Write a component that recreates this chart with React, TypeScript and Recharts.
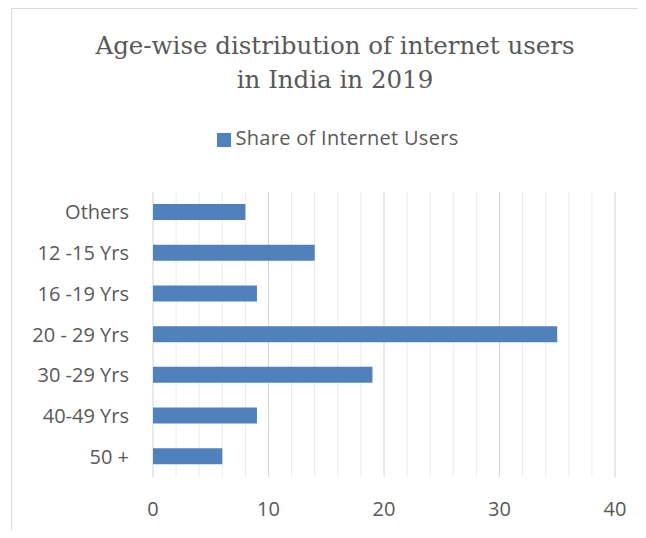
import { Bar, BarChart, CartesianGrid, Legend, XAxis, YAxis } from "recharts";

const categories = ["Others", "12 -15 Yrs", "16 -19 Yrs", "20 - 29 Yrs", "30 -29 Yrs", "40-49 Yrs", "50 +"];
const shareOfUsers = [8, 14, 9, 35, 19, 9, 6];
const majorTicks = [0, 10, 20, 30, 40];
const minorTicks = [2, 4, 6, 8, 12, 14, 16, 18, 22, 24, 26, 28, 32, 34, 36, 38];

const data = categories.map((c, i) => ({ age: c, share: shareOfUsers[i] }));

const textColor = "#595959";
const sans = "'Open Sans', 'Noto Sans', sans-serif";

// minor gridlines every 2 units, through the x axis scale
const minorLines = (props: any) => {
  try {
    const scale = props?.xAxis?.scale;
    if (typeof scale === "function") return minorTicks.map((t) => scale(t));
    if (scale && typeof scale.map === "function") return minorTicks.map((t) => scale.map(t));
    if (scale && typeof scale.apply === "function") return minorTicks.map((t) => scale.apply(t));
  } catch (e) {
    // fall through
  }
  return [];
};

export default function App() {
  return (
    <div style={{ position: "relative", width: 646, height: 538, margin: -8, overflow: "hidden", background: "#fff" }}>
      <div
        style={{
          position: "absolute",
          left: 11,
          top: 8,
          width: 700,
          height: 600,
          border: "1px solid #d9d9d9",
        }}
      />
      <div
        style={{
          position: "absolute",
          left: 0,
          top: 29,
          width: 670,
          textAlign: "center",
          fontFamily: "'DejaVu Serif', serif",
          fontSize: 24.5,
          lineHeight: "34px",
          color: textColor,
        }}
      >
        Age-wise distribution of internet users
        <br />
        in India in 2019
      </div>
      <div style={{ position: "absolute", left: 0, top: 0 }}>
        <BarChart
          width={646}
          height={538}
          data={data}
          layout="vertical"
          margin={{ top: 165, right: 31, bottom: 21, left: 13 }}
        >
          <CartesianGrid horizontal={false} stroke="#ebebeb" verticalCoordinatesGenerator={minorLines} />
          <CartesianGrid horizontal={false} stroke="#d4d4d4" />
          <XAxis
            type="number"
            domain={[0, 40]}
            ticks={majorTicks}
            axisLine={false}
            tickLine={false}
            tickMargin={19}
            height={40}
            tick={{ fill: textColor, fontSize: 20, fontFamily: sans }}
          />
          <YAxis
            type="category"
            dataKey="age"
            width={140}
            axisLine={false}
            tickLine={false}
            tickMargin={18}
            tick={{ fill: textColor, fontSize: 20, fontFamily: sans }}
          />
          <Legend
            verticalAlign="top"
            align="center"
            iconType="square"
            iconSize={14}
            wrapperStyle={{ top: 124, left: 8, width: 670, fontFamily: sans, fontSize: 20, letterSpacing: 0.3 }}
            formatter={(value) => <span style={{ color: textColor }}>{value}</span>}
          />
          <Bar
            dataKey="share"
            name="Share of Internet Users"
            fill="#4f81bd"
            barSize={16}
            isAnimationActive={false}
          />
        </BarChart>
      </div>
    </div>
  );
}
